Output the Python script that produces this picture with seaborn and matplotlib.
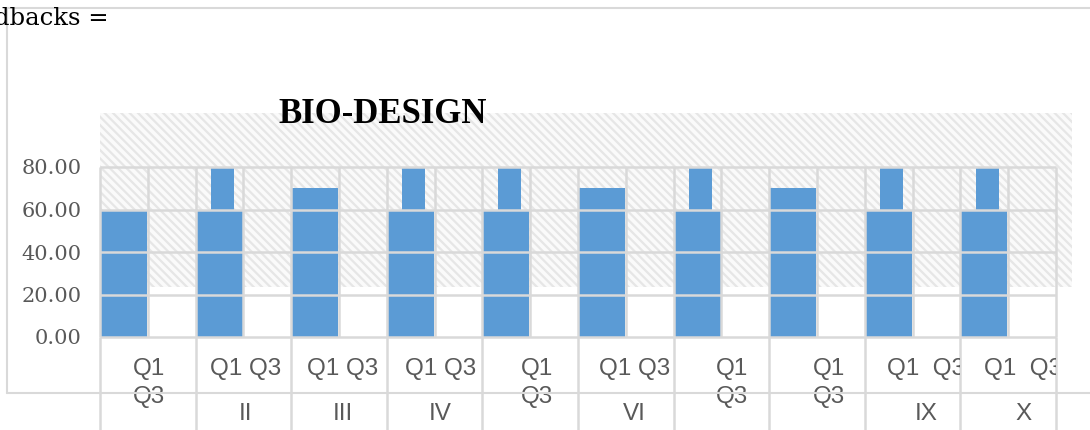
import numpy as np
import pandas as pd
import seaborn as sns
import matplotlib.pyplot as plt
from matplotlib.patches import Rectangle
from matplotlib.lines import Line2D
from matplotlib.transforms import Bbox, blended_transform_factory

# chart data
groups = ["I", "II", "III", "IV", "V", "VI", "VII", "VIII", "IX", "X"]
quarters = ["Q1", "Q3"]
q1_values = [60, 80, 70, 80, 80, 70, 80, 70, 80, 80]
q1_base = [60, 60, 70, 60, 60, 70, 60, 70, 60, 60]
q3_values = [0, 0, 0, 0, 0, 0, 0, 0, 0, 0]
quarter_labels = ["Q1\nQ3", "Q1 Q3", "Q1 Q3", "Q1 Q3", "Q1\nQ3",
                  "Q1 Q3", "Q1\nQ3", "Q1\nQ3", "Q1  Q3", "Q1  Q3"]
y_ticks = [0, 20, 40, 60, 80]
title = "BIO-DESIGN"
caption = "dbacks ="

BLUE = "#5b9bd5"
GRID = "#d9d9d9"
TEXT = "#595959"
W, H = 1090, 430


def long_df(q1, q3):
    return pd.DataFrame({
        "group": groups * 2,
        "quarter": ["Q1"] * len(groups) + ["Q3"] * len(groups),
        "value": list(q1) + list(q3),
    })


sns.set_theme(style="white")
plt.rcParams["hatch.linewidth"] = 1.6
plt.rcParams["hatch.color"] = "#e6e6e6"

fig = plt.figure(figsize=(W / 100, H / 100), dpi=100)
fig.patch.set_facecolor("white")

# main plot area: x 100..1056 px, y 113..337 px
ax = fig.add_axes([100 / W, (H - 337) / H, 956 / W, (337 - 113) / H])
ax.set_facecolor("none")
top = (337 - 113) / 2.125

# hatched backdrop (extends slightly beyond the plot on the right)
bt = blended_transform_factory(ax.transAxes, ax.transData)
ax.add_patch(Rectangle((0, 23.5), (1072 - 100) / 956, top - 23.5, transform=bt,
                       facecolor="#fafafa", edgecolor="#e6e6e6", linewidth=0,
                       hatch="\\\\\\\\", clip_on=False, zorder=0))

pal = {"Q1": BLUE, "Q3": BLUE}
bar_kw = dict(x="group", y="value", hue="quarter", order=groups, hue_order=quarters,
              palette=pal, saturation=1, legend=False, errorbar=None, ax=ax,
              linewidth=0, edgecolor="none", zorder=1)
sns.barplot(data=long_df(q1_base, q3_values), width=1.0, gap=0.03, **bar_kw)
sns.barplot(data=long_df(q1_values, q3_values), width=0.88, gap=0.45, **bar_kw)

ax.set_xlim(-0.5, len(groups) - 0.5)
ax.set_ylim(0, top)
ax.set_xlabel("")
ax.set_ylabel("")
ax.set_xticks([])
ax.set_yticks(y_ticks)
ax.set_yticklabels([f"{v:.2f}" for v in y_ticks], family="DejaVu Serif",
                   fontsize=15, color=TEXT)
ax.tick_params(axis="y", length=0, pad=13)
for s in ax.spines.values():
    s.set_visible(False)

# gridlines on top of the bars
ax.hlines(y_ticks, -0.5, len(groups) - 0.5, color=GRID, lw=1.8, zorder=3, clip_on=False)
xs = np.arange(-0.5, len(groups), 0.5)
ax.vlines(xs, 0, y_ticks[-1], color=GRID, lw=1.8, zorder=3, clip_on=False)

# category label area below the axis
lab = fig.add_axes([100 / W, 0, 956 / W, (H - 337) / H], sharex=ax)
lab.set_ylim(H - 337, 0)
lab.axis("off")
lab.vlines(np.arange(-0.5, len(groups)), 0, H - 337, color=GRID, lw=1.8, clip_on=False)

stretch = 97.2 / 95.6
for i, (g, ql) in enumerate(zip(groups, quarter_labels)):
    xc = -0.5 + (i + 0.5) * stretch
    clip = Bbox([[i / len(groups) - 0.05, -1], [(i + 1) / len(groups), 2]])
    lines = ql.split("\n")
    for k, line in enumerate(lines):
        t = lab.text(xc, 38 + 28.5 * k, line, ha="center", va="baseline",
                     family="Liberation Sans", fontsize=17.5, color=TEXT)
        t.set_clip_box(lab.transAxes.transform_bbox(clip))
        t.set_clip_on(True)
    if len(lines) == 1:
        lab.text(xc, 83, g, ha="center", va="baseline", family="Liberation Sans",
                 fontsize=17.5, color=TEXT)

# outer chart border
for xd, yd in [((7, W), (8, 8)), ((7, 7), (8, 393)), ((7, W), (393, 393))]:
    fig.add_artist(Line2D([x / W for x in xd], [1 - y / H for y in yd],
                          transform=fig.transFigure, color=GRID, lw=1.5))

fig.text(383 / W, 1 - 123 / H, title, ha="center", va="baseline",
         family="Liberation Serif", weight="bold", fontsize=25, color="black")
fig.text(-6 / W, 1 - 25 / H, caption, ha="left", va="baseline",
         family="DejaVu Serif", fontsize=17.5, color="black")

fig.savefig("out.png", dpi=100)
